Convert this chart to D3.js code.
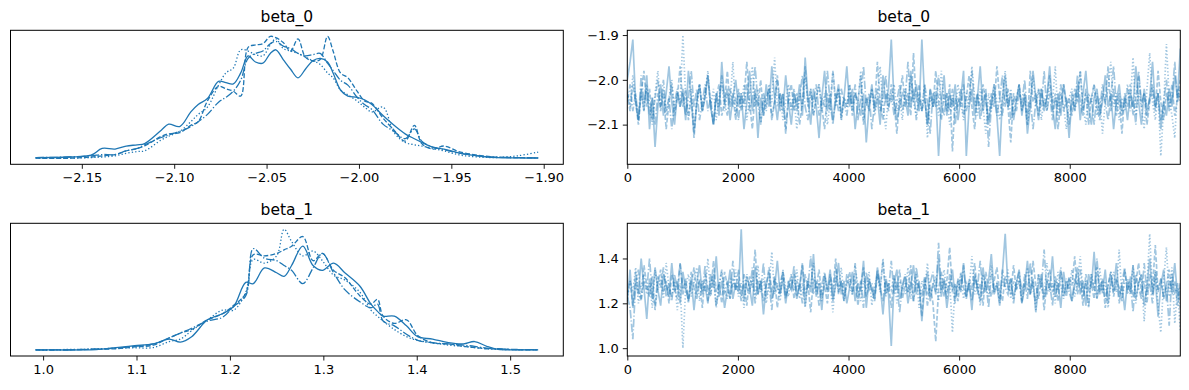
<!DOCTYPE html>
<html>
<head>
<meta charset="utf-8">
<script src="https://cdn.jsdelivr.net/npm/d3@7"></script>
<style>
  body { margin: 0; background: #fff; }
  svg { display: block; font-family: "DejaVu Sans", sans-serif; }
</style>
</head>
<body>
<div id="chart"></div>
<script>
// Posterior KDE per chain (density scaled so the tallest peak = 1).
var kde0X = [-2.175,-2.157,-2.145,-2.139,-2.132,-2.126,-2.120,-2.116,-2.107,-2.103,-2.097,-2.091,-2.087,-2.082,-2.076,-2.072,-2.068,-2.064,-2.060,-2.056,-2.052,-2.048,-2.045,-2.041,-2.037,-2.033,-2.029,-2.025,-2.021,-2.017,-2.014,-2.010,-2.006,-2.001,-1.997,-1.993,-1.987,-1.981,-1.975,-1.970,-1.966,-1.960,-1.954,-1.945,-1.933,-1.925,-1.914,-1.903];
var kde0 = [
  [0.005,0.010,0.025,0.080,0.075,0.100,0.110,0.120,0.230,0.280,0.260,0.380,0.440,0.490,0.630,0.620,0.610,0.700,0.840,0.790,0.780,0.860,0.890,0.810,0.730,0.660,0.730,0.800,0.820,0.790,0.700,0.560,0.510,0.500,0.480,0.440,0.350,0.270,0.200,0.160,0.130,0.090,0.075,0.040,0.014,0.004,0.002,0.001],
  [0.000,0.000,0.010,0.020,0.030,0.060,0.080,0.100,0.180,0.200,0.210,0.270,0.300,0.470,0.590,0.570,0.550,0.510,0.910,0.930,0.940,1.000,0.990,0.950,0.880,0.980,0.830,0.800,0.810,1.000,0.880,0.700,0.660,0.550,0.470,0.450,0.330,0.230,0.140,0.270,0.120,0.075,0.100,0.050,0.020,0.008,0.005,0.002],
  [0.000,0.000,0.005,0.010,0.020,0.040,0.055,0.060,0.150,0.180,0.220,0.300,0.360,0.420,0.600,0.700,0.740,0.890,0.880,0.850,0.840,0.930,0.980,0.900,0.880,0.860,0.830,0.800,0.770,0.700,0.660,0.560,0.520,0.470,0.420,0.380,0.420,0.210,0.130,0.110,0.100,0.080,0.060,0.025,0.008,0.006,0.020,0.050],
  [0.005,0.010,0.020,0.030,0.030,0.060,0.080,0.110,0.170,0.190,0.220,0.260,0.300,0.360,0.460,0.500,0.550,0.640,0.820,0.860,0.880,0.940,0.960,0.920,0.900,0.860,0.840,0.850,0.860,0.780,0.720,0.640,0.600,0.500,0.440,0.400,0.280,0.220,0.160,0.240,0.140,0.090,0.070,0.040,0.015,0.008,0.005,0.003]
];

var kde1X = [0.992,1.014,1.040,1.057,1.078,1.098,1.118,1.135,1.147,1.159,1.176,1.192,1.204,1.217,1.225,1.237,1.250,1.258,1.266,1.278,1.289,1.299,1.311,1.323,1.339,1.351,1.358,1.364,1.376,1.389,1.401,1.417,1.434,1.450,1.462,1.475,1.487,1.507,1.530];
var kde1 = [
  [0.000,0.000,0.000,0.003,0.020,0.035,0.050,0.090,0.065,0.110,0.250,0.300,0.360,0.560,0.550,0.680,0.640,0.610,0.700,0.860,0.700,0.660,0.720,0.640,0.530,0.380,0.320,0.280,0.280,0.200,0.110,0.090,0.060,0.050,0.070,0.030,0.005,0.001,0.000],
  [0.000,0.000,0.003,0.006,0.010,0.025,0.040,0.100,0.140,0.170,0.250,0.300,0.370,0.470,0.790,0.780,0.800,0.830,0.860,0.940,0.740,0.800,0.660,0.600,0.450,0.380,0.420,0.280,0.220,0.250,0.120,0.060,0.050,0.030,0.020,0.010,0.008,0.002,0.000],
  [0.000,0.003,0.005,0.008,0.015,0.018,0.020,0.070,0.090,0.160,0.250,0.330,0.330,0.480,0.750,0.720,0.780,1.000,0.900,0.780,0.820,0.740,0.620,0.580,0.480,0.330,0.280,0.240,0.170,0.110,0.080,0.060,0.040,0.030,0.020,0.010,0.005,0.003,0.002],
  [0.000,0.000,0.004,0.008,0.015,0.030,0.050,0.100,0.140,0.180,0.240,0.270,0.360,0.450,0.840,0.760,0.740,0.700,0.660,0.550,0.680,0.800,0.640,0.500,0.400,0.350,0.380,0.240,0.200,0.130,0.080,0.060,0.050,0.040,0.030,0.015,0.010,0.004,0.002]
];

// Traces, one value every ~50 draws per chain (draws 0..9999), 4 chains.
var trace0 = [
  [-2.00,-1.96,-1.91,-2.05,-2.09,-2.02,-2.07,-1.99,-2.11,-2.04,-2.15,-2.06,-2.01,-2.08,-2.03,-1.97,-2.05,-2.10,-2.03,-2.06,
   -2.02,-2.09,-1.98,-2.04,-2.12,-2.05,-2.01,-2.07,-2.04,-1.99,-2.06,-2.10,-2.03,-2.08,-1.96,-2.05,-2.02,-2.09,-2.04,-2.00,
   -2.06,-2.03,-2.11,-2.05,-1.98,-2.07,-2.02,-2.13,-2.04,-2.08,-2.01,-2.06,-1.97,-2.04,-2.09,-2.03,-2.07,-1.99,-2.05,-2.10,
   -2.03,-2.06,-2.01,-2.08,-1.95,-2.04,-2.10,-2.02,-2.06,-2.13,-2.04,-1.98,-2.07,-2.03,-2.09,-2.05,-2.01,-2.08,-2.04,-1.97,
   -2.06,-2.02,-2.11,-2.05,-2.08,-2.03,-2.14,-2.06,-2.01,-2.07,-2.04,-2.10,-1.99,-2.05,-2.02,-1.91,-2.05,-2.09,-2.06,-2.03,
   -2.04,-2.08,-1.98,-2.05,-2.01,-2.07,-1.91,-2.04,-2.10,-2.02,-2.06,-2.03,-2.17,-2.05,-1.99,-2.08,-2.03,-2.06,-2.01,-2.09,
   -2.04,-1.98,-2.17,-2.06,-2.02,-2.08,-2.04,-1.97,-2.07,-2.03,-2.10,-2.05,-2.01,-2.08,-2.17,-2.04,-1.99,-2.06,-2.03,-2.09,
   -2.05,-2.01,-2.08,-2.03,-2.12,-2.06,-1.98,-2.04,-2.09,-2.02,-2.07,-2.04,-1.97,-2.06,-2.11,-2.03,-2.08,-2.01,-2.05,-2.13,
   -2.04,-2.07,-2.01,-2.09,-2.03,-1.98,-2.06,-2.10,-2.04,-2.02,-2.08,-2.05,-1.99,-2.06,-2.03,-2.11,-2.05,-2.01,-2.07,-2.04,
   -2.09,-2.03,-2.06,-1.97,-2.05,-2.10,-2.02,-2.07,-2.04,-1.96,-2.06,-2.03,-2.11,-2.05,-2.08,-2.02,-2.06,-1.99,-2.04,-1.93],
  [-2.03,-2.07,-2.01,-2.05,-2.10,-2.03,-1.98,-2.06,-2.02,-2.09,-2.04,-2.00,-2.07,-2.03,-2.11,-2.05,-2.01,-2.08,-2.04,-1.97,
   -2.06,-2.02,-2.09,-2.04,-2.13,-2.05,-2.01,-2.07,-2.03,-1.99,-2.06,-2.10,-2.04,-2.01,-2.08,-2.05,-1.98,-2.06,-2.03,-2.09,
   -2.02,-2.07,-2.04,-1.96,-2.05,-2.11,-2.03,-2.06,-2.00,-2.08,-2.04,-2.02,-2.09,-2.05,-1.99,-2.06,-2.03,-2.12,-2.04,-2.01,
   -2.07,-2.03,-2.10,-2.05,-1.97,-2.06,-2.02,-2.08,-2.04,-2.01,-2.06,-2.11,-2.03,-2.07,-1.98,-2.05,-2.02,-2.09,-2.04,-2.06,
   -2.01,-2.08,-2.03,-2.05,-1.99,-2.10,-2.04,-2.07,-2.02,-2.06,-1.96,-2.05,-2.09,-2.03,-2.07,-2.01,-2.05,-2.12,-2.04,-1.99,
   -2.06,-2.03,-2.08,-1.94,-2.05,-2.01,-2.07,-2.04,-2.10,-2.02,-2.06,-1.98,-2.05,-2.09,-2.03,-2.07,-2.01,-2.16,-2.04,-2.06,
   -2.02,-2.08,-2.04,-1.99,-2.06,-2.11,-2.03,-2.07,-2.01,-2.05,-2.09,-2.03,-2.06,-1.97,-2.04,-2.08,-2.02,-2.06,-2.14,-2.03,
   -2.05,-2.01,-2.07,-2.04,-2.10,-1.98,-2.05,-2.03,-2.08,-2.02,-2.06,-2.04,-1.99,-2.07,-2.03,-2.11,-2.05,-2.01,-2.06,-2.04,
   -2.08,-2.02,-2.05,-1.98,-2.07,-2.03,-2.10,-2.04,-2.01,-2.06,-2.09,-2.03,-2.05,-1.97,-2.07,-2.02,-2.08,-2.04,-2.12,-2.03,
   -2.06,-2.01,-2.08,-2.04,-1.99,-2.06,-2.03,-2.10,-2.05,-2.02,-2.07,-1.98,-2.05,-2.09,-2.03,-2.06,-2.01,-2.08,-2.04,-2.00],
  [-2.02,-2.06,-1.99,-2.04,-2.09,-2.03,-2.07,-2.01,-2.05,-2.10,-2.03,-1.98,-2.06,-2.02,-2.08,-2.04,-2.00,-2.07,-2.03,-2.05,
   -1.90,-2.04,-2.08,-2.02,-2.11,-2.05,-2.01,-2.07,-2.03,-1.98,-2.06,-2.02,-2.09,-2.04,-2.00,-2.07,-2.03,-2.05,-1.96,-2.08,
   -2.03,-2.06,-2.01,-2.09,-2.04,-1.97,-2.06,-2.02,-2.10,-2.04,-2.07,-2.01,-2.05,-1.95,-2.06,-2.03,-2.09,-2.05,-2.01,-2.07,
   -2.04,-2.11,-2.03,-2.06,-1.99,-2.05,-2.02,-2.08,-2.04,-2.01,-2.07,-2.03,-2.10,-2.05,-1.98,-2.06,-2.02,-2.09,-2.04,-2.06,
   -2.01,-2.07,-2.03,-2.05,-1.98,-2.09,-2.04,-2.06,-2.02,-2.08,-2.04,-1.97,-2.06,-2.11,-2.03,-2.05,-2.01,-2.07,-2.04,-2.09,
   -2.02,-2.06,-1.99,-2.05,-2.08,-2.03,-2.07,-2.01,-2.13,-2.04,-2.06,-2.02,-2.08,-1.98,-2.05,-2.03,-2.10,-2.04,-2.07,-2.01,
   -2.05,-2.09,-2.03,-2.06,-1.97,-2.04,-2.08,-2.02,-2.06,-2.12,-2.03,-2.07,-2.01,-2.05,-2.09,-2.04,-1.98,-2.06,-2.02,-2.08,
   -2.04,-2.01,-2.07,-2.03,-2.10,-2.05,-1.99,-2.06,-2.02,-2.09,-2.04,-2.07,-2.01,-2.05,-1.97,-2.08,-2.03,-2.06,-2.11,-2.04,
   -2.02,-2.07,-2.04,-1.98,-2.06,-2.10,-2.03,-2.05,-2.01,-2.08,-2.04,-2.12,-2.05,-2.02,-1.96,-2.06,-2.03,-2.09,-2.04,-2.07,
   -2.01,-2.05,-1.95,-2.08,-2.03,-2.06,-2.11,-2.02,-1.94,-2.05,-2.09,-2.03,-2.17,-2.06,-1.92,-2.04,-2.08,-2.13,-2.02,-2.05],
  [-2.05,-2.01,-2.07,-2.03,-2.09,-1.99,-2.05,-2.02,-2.08,-2.04,-2.10,-2.03,-2.06,-2.00,-2.07,-2.04,-2.11,-2.05,-2.02,-2.06,
   -2.03,-2.08,-2.04,-1.98,-2.06,-2.02,-2.09,-2.05,-2.01,-2.07,-2.04,-2.10,-2.03,-2.06,-1.99,-2.05,-2.08,-2.02,-2.06,-2.04,
   -2.09,-2.03,-2.06,-2.01,-2.07,-2.04,-1.97,-2.05,-2.10,-2.03,-2.06,-2.02,-2.08,-2.05,-2.00,-2.07,-2.03,-2.11,-2.04,-2.06,
   -2.02,-2.07,-2.04,-1.99,-2.06,-2.09,-2.03,-2.05,-2.01,-2.08,-2.04,-2.06,-1.98,-2.05,-2.10,-2.03,-2.07,-2.02,-2.05,-2.08,
   -2.03,-2.06,-2.01,-2.09,-2.04,-1.97,-2.06,-2.03,-2.11,-2.05,-2.02,-2.07,-2.04,-1.99,-2.06,-2.03,-2.08,-2.05,-2.01,-2.07,
   -2.04,-1.96,-2.06,-2.02,-2.09,-2.04,-2.07,-2.01,-2.05,-2.12,-2.03,-2.06,-1.99,-2.05,-2.08,-2.03,-2.07,-2.02,-2.10,-2.04,
   -2.06,-2.01,-2.07,-2.04,-1.98,-2.06,-2.03,-2.09,-2.05,-2.02,-2.15,-2.06,-2.03,-2.08,-2.04,-1.99,-2.06,-2.02,-2.09,-2.04,
   -2.07,-2.03,-2.05,-2.00,-2.08,-2.04,-2.11,-2.05,-2.02,-2.06,-1.98,-2.07,-2.03,-2.09,-2.04,-2.06,-2.01,-2.07,-2.04,-2.10,
   -2.03,-2.06,-1.99,-2.05,-2.08,-2.02,-2.06,-2.04,-2.10,-2.03,-2.07,-2.01,-2.05,-2.09,-2.04,-1.97,-2.06,-2.03,-2.08,-2.05,
   -2.02,-2.07,-2.04,-2.10,-1.98,-2.05,-2.03,-2.08,-2.04,-2.01,-2.06,-2.03,-2.09,-2.05,-2.00,-2.07,-2.04,-1.96,-2.05,-2.02]
];

var trace1 = [
  [1.21,1.35,1.18,1.29,1.24,1.40,1.27,1.13,1.31,1.22,1.36,1.26,1.19,1.33,1.28,1.23,1.38,1.25,1.30,1.20,
   1.34,1.26,1.22,1.31,1.17,1.29,1.37,1.24,1.28,1.20,1.33,1.27,1.41,1.23,1.30,1.18,1.26,1.35,1.22,1.29,
   1.25,1.53,1.21,1.32,1.27,1.19,1.36,1.24,1.30,1.15,1.28,1.34,1.22,1.27,1.39,1.24,1.31,1.20,1.29,1.26,
   1.33,1.22,1.28,1.37,1.19,1.30,1.25,1.42,1.23,1.29,1.17,1.32,1.26,1.35,1.21,1.28,1.38,1.24,1.30,1.20,
   1.27,1.34,1.21,1.29,1.25,1.39,1.18,1.31,1.26,1.22,1.36,1.28,1.15,1.30,1.24,1.01,1.29,1.35,1.22,1.27,
   1.32,1.20,1.28,1.37,1.24,1.30,1.12,1.27,1.34,1.21,1.29,1.25,1.40,1.23,1.31,1.18,1.28,1.35,1.22,1.30,
   1.26,1.38,1.23,1.29,1.17,1.33,1.27,1.21,1.36,1.25,1.30,1.42,1.24,1.28,1.19,1.34,1.51,1.26,1.31,1.22,
   1.29,1.35,1.20,1.27,1.39,1.24,1.31,1.16,1.28,1.33,1.22,1.30,1.26,1.41,1.23,1.29,1.18,1.34,1.25,1.31,
   1.21,1.28,1.36,1.24,1.30,1.19,1.33,1.27,1.43,1.22,1.29,1.25,1.35,1.20,1.31,1.26,1.38,1.23,1.28,1.17,
   1.30,1.25,1.37,1.22,1.29,1.33,1.19,1.27,1.40,1.24,1.31,1.14,1.28,1.35,1.21,1.30,1.26,1.38,1.23,1.29],
  [1.24,1.30,1.19,1.34,1.26,1.21,1.37,1.28,1.23,1.32,1.17,1.29,1.35,1.25,1.30,1.20,1.33,1.27,1.22,1.38,
   1.26,1.31,1.21,1.28,1.36,1.24,1.30,1.18,1.33,1.27,1.23,1.39,1.25,1.29,1.20,1.34,1.28,1.22,1.31,1.26,
   1.35,1.23,1.29,1.19,1.32,1.27,1.44,1.24,1.30,1.21,1.28,1.36,1.25,1.31,1.18,1.29,1.34,1.23,1.27,1.33,
   1.22,1.30,1.26,1.38,1.24,1.29,1.16,1.31,1.27,1.35,1.23,1.28,1.20,1.33,1.26,1.40,1.24,1.30,1.21,1.29,
   1.34,1.25,1.31,1.19,1.28,1.36,1.23,1.30,1.26,1.21,1.33,1.27,1.39,1.24,1.29,1.18,1.32,1.26,1.35,1.22,
   1.29,1.25,1.37,1.21,1.30,1.27,1.14,1.32,1.24,1.28,1.20,1.03,1.26,1.34,1.23,1.30,1.45,1.25,1.29,1.21,
   1.33,1.27,1.22,1.31,1.26,1.38,1.24,1.29,1.19,1.34,1.27,1.23,1.30,1.36,1.25,1.21,1.32,1.28,1.24,1.37,
   1.26,1.30,1.20,1.33,1.27,1.24,1.39,1.28,1.22,1.31,1.17,1.29,1.35,1.25,1.30,1.21,1.34,1.27,1.23,1.32,
   1.28,1.41,1.24,1.30,1.19,1.33,1.26,1.29,1.22,1.36,1.25,1.31,1.18,1.28,1.34,1.23,1.30,1.27,1.21,1.35,
   1.26,1.32,1.23,1.29,1.38,1.24,1.30,1.20,1.33,1.27,1.46,1.25,1.31,1.22,1.28,1.35,1.24,1.30,1.19,1.27],
  [1.22,1.30,1.25,1.36,1.20,1.28,1.33,1.24,1.29,1.18,1.35,1.26,1.31,1.22,1.38,1.27,1.23,1.30,1.17,1.29,
   1.00,1.27,1.33,1.23,1.29,1.36,1.21,1.30,1.25,1.40,1.24,1.31,1.19,1.28,1.34,1.26,1.22,1.31,1.27,1.35,
   1.23,1.29,1.18,1.33,1.26,1.30,1.22,1.37,1.25,1.31,1.20,1.28,1.43,1.24,1.29,1.21,1.34,1.27,1.23,1.32,
   1.26,1.35,1.22,1.29,1.18,1.31,1.27,1.38,1.24,1.30,1.21,1.33,1.26,1.29,1.16,1.32,1.25,1.36,1.23,1.28,
   1.31,1.24,1.37,1.27,1.21,1.30,1.26,1.34,1.19,1.28,1.32,1.25,1.40,1.23,1.29,1.26,1.33,1.20,1.30,1.27,
   1.24,1.36,1.22,1.29,1.33,1.18,1.30,1.26,1.38,1.23,1.28,1.32,1.21,1.27,1.35,1.25,1.30,1.07,1.28,1.24,
   1.34,1.22,1.29,1.26,1.41,1.24,1.30,1.19,1.33,1.27,1.23,1.37,1.25,1.29,1.20,1.31,1.27,1.35,1.22,1.30,
   1.26,1.32,1.21,1.28,1.36,1.24,1.30,1.17,1.33,1.27,1.23,1.38,1.25,1.29,1.20,1.34,1.28,1.22,1.31,1.26,
   1.35,1.23,1.29,1.41,1.25,1.30,1.19,1.33,1.27,1.22,1.36,1.24,1.30,1.18,1.28,1.34,1.25,1.44,1.22,1.29,
   1.31,1.24,1.37,1.20,1.29,1.33,1.12,1.28,1.51,1.24,1.34,1.19,1.07,1.30,1.45,1.23,1.36,1.11,1.27,1.08],
  [1.23,1.18,1.04,1.29,1.35,1.22,1.30,1.26,1.40,1.24,1.19,1.32,1.27,1.36,1.23,1.29,1.21,1.33,1.26,1.38,
   1.24,1.30,1.20,1.34,1.27,1.22,1.31,1.25,1.37,1.21,1.29,1.33,1.18,1.28,1.35,1.24,1.30,1.22,1.39,1.26,
   1.29,1.21,1.33,1.27,1.24,1.36,1.20,1.30,1.26,1.38,1.23,1.29,1.17,1.32,1.27,1.24,1.35,1.22,1.30,1.26,
   1.37,1.23,1.29,1.20,1.33,1.27,1.41,1.24,1.30,1.19,1.28,1.34,1.25,1.31,1.22,1.36,1.26,1.29,1.21,1.33,
   1.27,1.24,1.38,1.22,1.30,1.18,1.34,1.26,1.29,1.23,1.35,1.27,1.21,1.32,1.25,1.39,1.24,1.30,1.16,1.28,
   1.33,1.25,1.30,1.21,1.36,1.27,1.23,1.31,1.19,1.29,1.34,1.24,1.47,1.26,1.30,1.22,1.33,1.27,1.20,1.31,
   1.25,1.37,1.23,1.29,1.21,1.32,1.27,1.39,1.24,1.30,1.18,1.33,1.26,1.29,1.22,1.35,1.27,1.24,1.31,1.20,
   1.29,1.34,1.25,1.30,1.22,1.38,1.26,1.21,1.33,1.27,1.44,1.24,1.29,1.19,1.32,1.26,1.36,1.23,1.30,1.25,
   1.21,1.31,1.27,1.35,1.23,1.29,1.18,1.33,1.26,1.40,1.24,1.30,1.22,1.28,1.34,1.25,1.31,1.20,1.29,1.36,
   1.24,1.30,1.16,1.33,1.27,1.22,1.38,1.25,1.29,1.20,1.35,1.26,1.31,1.23,1.28,1.10,1.33,1.24,1.29,1.18]
];

var names = ["beta_0", "beta_1"];
var kdeTicks = [[-2.15, -2.10, -2.05, -2.00, -1.95, -1.90], [1.0, 1.1, 1.2, 1.3, 1.4, 1.5]];
var traceYTicks = [[-1.9, -2.0, -2.1], [1.0, 1.2, 1.4]];
var drawTicks = [0, 2000, 4000, 6000, 8000];
var nDraws = 10000;

var width = 1189, height = 390;
var blue = "#1f77b4";
var lw = 1.3;
// matplotlib linestyles: solid, dashed, dotted, dashdot
var dashes = [null,
  [3.7 * lw, 1.6 * lw].join(","),
  [1 * lw, 1.65 * lw].join(","),
  [6.4 * lw, 1.6 * lw, 1 * lw, 1.6 * lw].join(",")];

var cols = [{x0: 10.5, x1: 563.3}, {x0: 627.3, x1: 1180.3}];
var rows = [{y0: 30.3, y1: 164.3}, {y0: 223.3, y1: 356}];

var svg = d3.select("#chart").append("svg")
  .attr("width", width)
  .attr("height", height);

var defs = svg.append("defs");

function fmt(v) {
  return d3.format(".2f")(v).replace("-", "\u2212");
}
function fmt1(v) {
  return d3.format(".1f")(v).replace("-", "\u2212");
}

function title(g, c, r, text) {
  g.append("text")
    .attr("x", (c.x0 + c.x1) / 2)
    .attr("y", r.y0 - 8)
    .attr("text-anchor", "middle")
    .attr("font-size", "15.5px")
    .attr("fill", "#000")
    .text(text);
}

function frame(g, c, r) {
  g.append("rect")
    .attr("x", c.x0).attr("y", r.y0)
    .attr("width", c.x1 - c.x0).attr("height", r.y1 - r.y0)
    .attr("fill", "none")
    .attr("stroke", "#000")
    .attr("stroke-width", 1);
}

function styleAxis(ax) {
  ax.select(".domain").remove();
  ax.selectAll(".tick line").attr("stroke", "#000").attr("stroke-width", 0.9);
  ax.selectAll(".tick text").attr("font-size", "13px").attr("fill", "#000")
    .attr("font-family", "DejaVu Sans, sans-serif");
}

var kdeX = [kde0X, kde1X];
var kdeY = [kde0, kde1];
var traces = [trace0, trace1];

names.forEach(function(name, p) {
  var r = rows[p];
  var ticks = kdeTicks[p];

  // ---- left: KDE per chain ----
  var lc = cols[0];
  var gL = svg.append("g");
  var vmin = d3.min(kdeX[p]), vmax = d3.max(kdeX[p]);
  var pad = (vmax - vmin) * 0.05;   // matplotlib's default 5% margin
  var x = d3.scaleLinear().domain([vmin - pad, vmax + pad]).range([lc.x0, lc.x1]);
  var y = d3.scaleLinear().domain([-0.05, 1.05]).range([r.y1, r.y0]);

  var line = d3.line()
    .x(function(d) { return x(d[0]); })
    .y(function(d) { return y(d[1]); })
    .curve(d3.curveCatmullRom.alpha(0.5));

  kdeY[p].forEach(function(dens, ch) {
    gL.append("path")
      .datum(kdeX[p].map(function(v, i) { return [v, dens[i]]; }))
      .attr("d", line)
      .attr("fill", "none")
      .attr("stroke", blue)
      .attr("stroke-width", lw)
      .attr("stroke-dasharray", dashes[ch]);
  });

  var axL = gL.append("g")
    .attr("transform", "translate(0," + r.y1 + ")")
    .call(d3.axisBottom(x).tickValues(ticks).tickSize(4.5).tickPadding(4)
      .tickFormat(p == 0 ? fmt : fmt1));
  styleAxis(axL);
  frame(gL, lc, r);
  title(gL, lc, r, name);

  // ---- right: trace per chain ----
  var rc = cols[1];
  var gR = svg.append("g");
  var clipId = "clip" + p;
  defs.append("clipPath").attr("id", clipId)
    .append("rect")
    .attr("x", rc.x0).attr("y", r.y0)
    .attr("width", rc.x1 - rc.x0).attr("height", r.y1 - r.y0);

  var xt = d3.scaleLinear().domain([0, nDraws - 1]).range([rc.x0, rc.x1]);
  // trace y shares the KDE's value range
  var yt = d3.scaleLinear().domain(x.domain()).range([r.y1, r.y0]);

  traces[p].forEach(function(vals, ch) {
    var n = vals.length;
    var tl = d3.line()
      .x(function(d, i) { return xt(Math.round(i * (nDraws - 1) / (n - 1))); })
      .y(function(d) { return yt(d); });
    gR.append("path")
      .datum(vals)
      .attr("clip-path", "url(#" + clipId + ")")
      .attr("d", tl)
      .attr("fill", "none")
      .attr("stroke", blue)
      .attr("stroke-opacity", 0.42)
      .attr("stroke-width", 1.7)
      .attr("stroke-dasharray", dashes[ch]);
  });

  var axB = gR.append("g")
    .attr("transform", "translate(0," + r.y1 + ")")
    .call(d3.axisBottom(xt).tickValues(drawTicks).tickSize(4.5).tickPadding(4)
      .tickFormat(d3.format("d")));
  styleAxis(axB);

  var axY = gR.append("g")
    .attr("transform", "translate(" + rc.x0 + ",0)")
    .call(d3.axisLeft(yt).tickValues(traceYTicks[p]).tickSize(4.5).tickPadding(4)
      .tickFormat(fmt1));
  styleAxis(axY);

  frame(gR, rc, r);
  title(gR, rc, r, name);
});
</script>
</body>
</html>
